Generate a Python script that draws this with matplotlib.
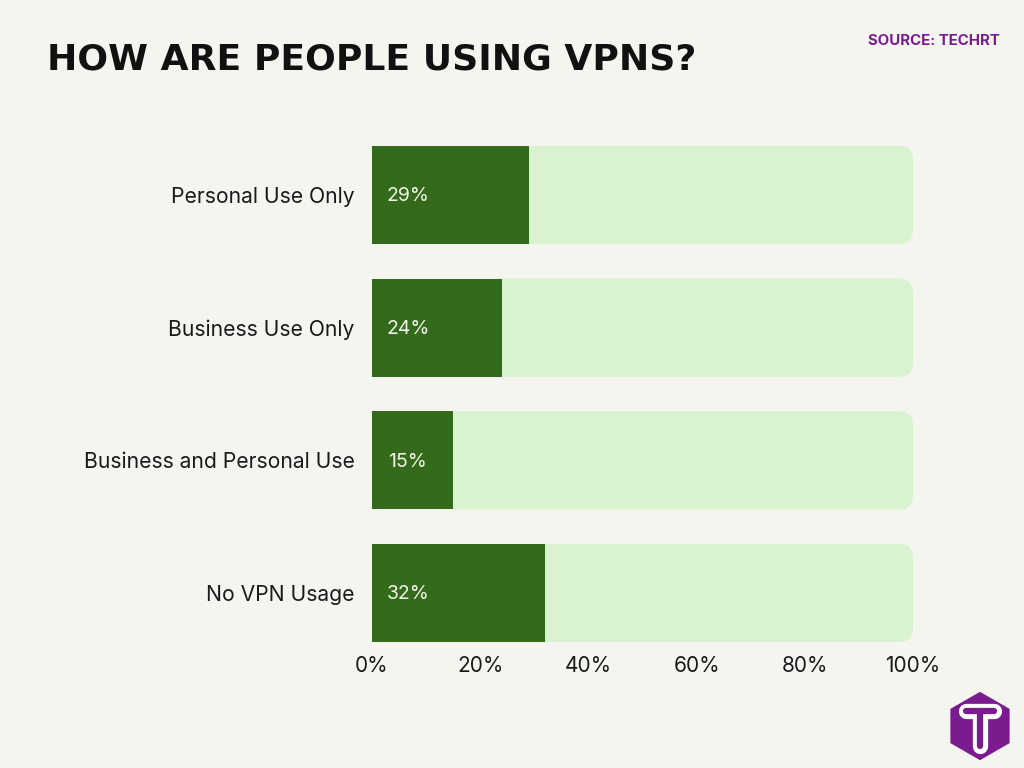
import numpy as np
import matplotlib
matplotlib.use('Agg')
from matplotlib import pyplot as plt
from matplotlib.patches import FancyBboxPatch, RegularPolygon
from matplotlib.ticker import FuncFormatter

categories = ['Personal Use Only', 'Business Use Only', 'Business and Personal Use', 'No VPN Usage']
values = [29, 24, 15, 32]
full = [100, 100, 100, 100]
xticks = [0, 20, 40, 60, 80, 100]

bg = '#f5f5f0'
dark = '#336a1b'
light = '#d9f2d0'
purple = '#7b1c8e'

plt.rcParams['font.family'] = ['Inter', 'DejaVu Sans']

fig = plt.figure(figsize=(10.24, 7.68), dpi=100, facecolor=bg)
ax = fig.add_axes([372/1024, 1-642/768, 541/1024, 496/768])
ax.set_facecolor(bg)

ypos = np.arange(len(categories))
h = 0.74

# background track, rounded on the right
track = ax.barh(ypos, full, height=h, color=light)
ax.set_xlim(0, 100)
ax.set_ylim(len(categories) - 1 + h/2, -h/2)
for r in track:
    r.remove()
    p = FancyBboxPatch((r.get_x(), r.get_y()), r.get_width(), r.get_height(),
                       boxstyle='round,pad=0,rounding_size=2.6', mutation_aspect=0.041,
                       facecolor=light, edgecolor='none', zorder=1)
    ax.add_patch(p)

bars = ax.barh(ypos, values, height=h, color=dark, zorder=2)
for b, v in zip(bars, values):
    ax.text(6.6, b.get_y() + b.get_height()/2 + 0.01, '%d%%' % v, color='#f2f5e6',
            fontsize=14, ha='center', va='center', zorder=3)

ax.set_yticks(ypos)
ax.set_yticklabels(categories, fontsize=15.2, color='#1a1a1a')
ax.set_xticks(xticks)
ax.xaxis.set_major_formatter(FuncFormatter(lambda x, p: '%d%%' % x))
ax.tick_params(axis='x', labelsize=15, colors='#1a1a1a', length=0, pad=10)
ax.tick_params(axis='y', length=0, pad=12.5)
for s in ax.spines.values():
    s.set_visible(False)

fig.text(47/1024, 1-59/768, 'HOW ARE PEOPLE USING VPNS?', fontsize=26, fontweight='heavy',
         family=['DejaVu Sans'], color='#111111', va='center', ha='left')
fig.text(1000/1024, 1-41/768, 'SOURCE: TECHRT', fontsize=10.8, fontweight='bold',
         color=purple, va='center', ha='right')

# logo
lax = fig.add_axes([944/1024, 1-762/768, 72/1024, 72/768])
lax.set_xlim(-1, 1)
lax.set_ylim(-1, 1)
lax.set_aspect('equal')
lax.axis('off')
lax.add_patch(RegularPolygon((0, 0), 6, radius=0.95, facecolor=purple, edgecolor='none'))
lax.plot([-0.4, 0.4], [0.42, 0.42], color='white', lw=11, solid_capstyle='round')
lax.plot([0, 0], [0.42, -0.55], color='white', lw=11, solid_capstyle='round')
lax.plot([-0.4, 0.4], [0.42, 0.42], color=purple, lw=4.5, solid_capstyle='round')
lax.plot([0, 0], [0.42, -0.55], color=purple, lw=4.5, solid_capstyle='round')

fig.savefig('out.png', dpi=100, facecolor=bg)
